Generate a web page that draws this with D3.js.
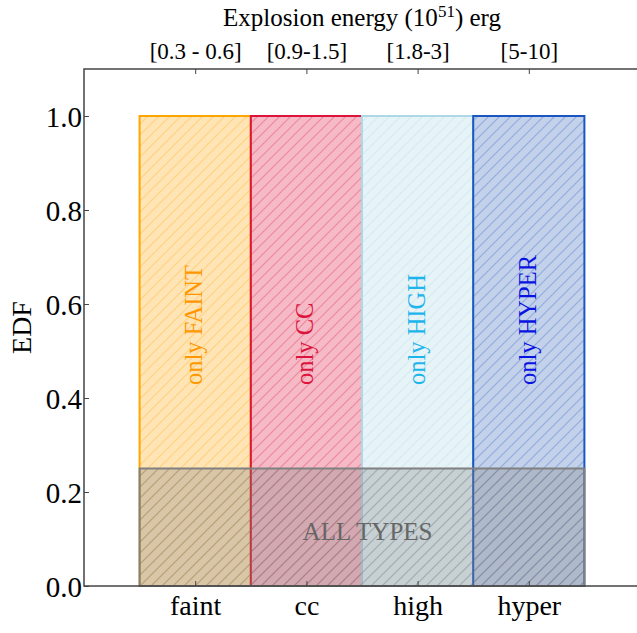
<!DOCTYPE html>
<html>
<head>
<meta charset="utf-8">
<script src="https://cdn.jsdelivr.net/npm/d3@7"></script>
<style>
  html, body { margin: 0; padding: 0; background: #fff; }
  svg text { font-family: "Liberation Serif", "DejaVu Serif", serif; }
</style>
</head>
<body>
<svg id="chart" width="637" height="633"></svg>
<script>
// Categories and their explosion energy ranges
const categories = ["faint", "cc", "high", "hyper"];
const energyRanges = ["[0.3 - 0.6]", "[0.9-1.5]", "[1.8-3]", "[5-10]"];
const onlyLabels = ["only FAINT", "only CC", "only HIGH", "only HYPER"];
// EDF span of each "only" bar and the shared "all types" band
const onlyTop = [1.0, 1.0, 1.0, 1.0];
const onlyBottom = [0.0, 0.0, 0.0, 0.0];
const allTypesTop = 0.25;
const yTicks = [0.0, 0.2, 0.4, 0.6, 0.8, 1.0];

const edgeColors = ["#ffa500", "#dc143c", "#add8e6", "#1a56c0"];
const fillColors = ["#ffe4b6", "#f5bac6", "#e6f3f7", "#c3d1ea"];
const textColors = ["#ff9800", "#dc143c", "#1eb4ec", "#0a14e0"];

const svg = d3.select("#chart");
const mLeft = 84, mRight = 640, mTop = 69, mBottom = 586;

const x = d3.scaleLinear().domain([0, 5]).range([mLeft, mRight]);
const y = d3.scaleLinear().domain([0, 1.1]).range([mBottom, mTop]);

// Diagonal hatch patterns
const defs = svg.append("defs");
function hatch(id, color, opacity) {
  const s = 11;
  const p = defs.append("pattern")
    .attr("id", id).attr("patternUnits", "userSpaceOnUse")
    .attr("width", s).attr("height", s);
  p.append("path")
    .attr("d", `M0,${s} L${s},0 M${-s/2},${s/2} L${s/2},${-s/2} M${s/2},${s*1.5} L${s*1.5},${s/2}`)
    .attr("stroke", color).attr("stroke-opacity", opacity)
    .attr("stroke-width", 1.2).attr("fill", "none");
}
categories.forEach((c, i) => hatch("h-" + c, edgeColors[i], 0.3));
hatch("h-all", "#707070", 0.35);

// "only" bars
const bars = svg.append("g");
categories.forEach((c, i) => {
  const pos = i + 1;
  const x0 = x(pos - 0.5), x1 = x(pos + 0.5);
  bars.append("rect")
    .attr("x", x0).attr("y", y(onlyTop[i]))
    .attr("width", x1 - x0).attr("height", y(onlyBottom[i]) - y(onlyTop[i]))
    .attr("fill", fillColors[i]);
  bars.append("rect")
    .attr("x", x0).attr("y", y(onlyTop[i]))
    .attr("width", x1 - x0).attr("height", y(onlyBottom[i]) - y(onlyTop[i]))
    .attr("fill", `url(#h-${c})`);
});
categories.forEach((c, i) => {
  const pos = i + 1;
  const x0 = x(pos - 0.5), x1 = x(pos + 0.5);
  bars.append("rect")
    .attr("x", x0).attr("y", y(onlyTop[i]))
    .attr("width", x1 - x0).attr("height", y(onlyBottom[i]) - y(onlyTop[i]))
    .attr("fill", "none").attr("stroke", edgeColors[i]).attr("stroke-width", 2);
});

// "all types" band across every category
const ax0 = x(0.5), ax1 = x(4.5);
bars.append("rect")
  .attr("x", ax0).attr("y", y(allTypesTop))
  .attr("width", ax1 - ax0).attr("height", y(0) - y(allTypesTop))
  .attr("fill", "#808080").attr("fill-opacity", 0.3);
bars.append("rect")
  .attr("x", ax0).attr("y", y(allTypesTop))
  .attr("width", ax1 - ax0).attr("height", y(0) - y(allTypesTop))
  .attr("fill", "url(#h-all)");
bars.append("rect")
  .attr("x", ax0).attr("y", y(allTypesTop))
  .attr("width", ax1 - ax0).attr("height", y(0) - y(allTypesTop))
  .attr("fill", "none").attr("stroke", "#808080").attr("stroke-width", 2);

// Bar labels
categories.forEach((c, i) => {
  const cx = x(i + 1) + 7, cy = 385;
  svg.append("text")
    .attr("transform", `translate(${cx},${cy}) rotate(-90)`)
    .attr("text-anchor", "start")
    .attr("font-size", 24.5)
    .attr("fill", textColors[i])
    .text(onlyLabels[i]);
});
svg.append("text")
  .attr("x", x(2.55)).attr("y", 540)
  .attr("text-anchor", "middle")
  .attr("font-size", 25)
  .attr("fill", "#666")
  .text("ALL TYPES");

// Frame
svg.append("rect")
  .attr("x", mLeft).attr("y", mTop)
  .attr("width", mRight - mLeft).attr("height", mBottom - mTop)
  .attr("fill", "none").attr("stroke", "#444").attr("stroke-width", 1.5);

// Axes (ticks point inward)
const yAxis = d3.axisRight(y).tickValues(yTicks).tickSize(5).tickFormat(d3.format(".1f"));
const gy = svg.append("g").attr("transform", `translate(${mLeft},0)`).call(yAxis);
gy.select(".domain").remove();
gy.selectAll("line").attr("stroke", "#444");
gy.selectAll("text")
  .attr("x", -2).attr("text-anchor", "end").attr("dy", "0.35em")
  .attr("font-size", 29).attr("fill", "#000");

const xb = d3.axisTop(x).tickValues([1, 2, 3, 4]).tickSize(5).tickFormat((d) => categories[d - 1]);
const gxb = svg.append("g").attr("transform", `translate(0,${mBottom})`).call(xb);
gxb.select(".domain").remove();
gxb.selectAll("line").attr("stroke", "#444");
gxb.selectAll("text")
  .attr("y", 29).attr("dy", 0)
  .attr("font-size", 28).attr("fill", "#000");

const xt = d3.axisBottom(x).tickValues([1, 2, 3, 4]).tickSize(5).tickFormat((d) => energyRanges[d - 1]);
const gxt = svg.append("g").attr("transform", `translate(0,${mTop})`).call(xt);
gxt.select(".domain").remove();
gxt.selectAll("line").attr("stroke", "#444");
gxt.selectAll("text")
  .attr("y", -10).attr("dy", 0)
  .attr("font-size", 23).attr("fill", "#000");

// Axis titles
const title = svg.append("text")
  .attr("x", (mLeft + mRight) / 2).attr("y", 26)
  .attr("text-anchor", "middle").attr("font-size", 25).attr("fill", "#000");
title.append("tspan").text("Explosion energy (10");
title.append("tspan").attr("font-size", 17).attr("dy", -9).text("51");
title.append("tspan").attr("dy", 9).text(") erg");

svg.append("text")
  .attr("transform", `translate(31,${(mTop + mBottom) / 2}) rotate(-90)`)
  .attr("text-anchor", "middle").attr("font-size", 28).attr("fill", "#000")
  .text("EDF");
</script>
</body>
</html>
